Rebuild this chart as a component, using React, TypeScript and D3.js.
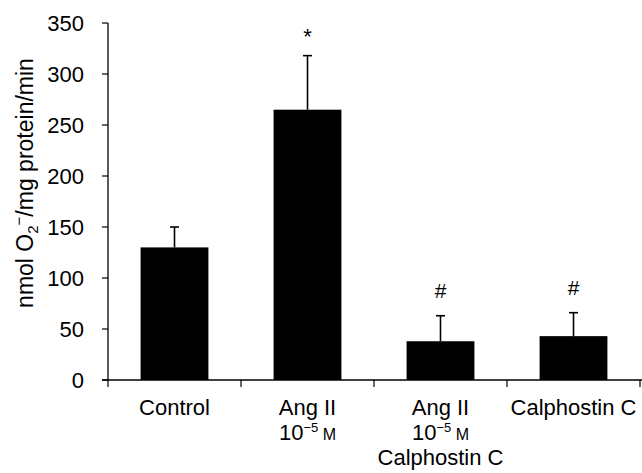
import React from 'react'
import * as d3 from 'd3'

// category labels, one array of lines per bar
const categories = ['Control', 'AngII', 'AngII+Cal', 'Cal']
const labelLines = [
  ['Control'],
  ['Ang II', '10^−5 M'],
  ['Ang II', '10^−5 M', 'Calphostin C'],
  ['Calphostin C'],
]
const means = [130, 265, 38, 43]
const errors = [20, 53, 25, 23]
const marks = ['', '*', '#', '#']
const yTicks = [0, 50, 100, 150, 200, 250, 300, 350]

const W = 642
const H = 473
const font = '"Liberation Sans", Arial, Helvetica, sans-serif'

// renders "10^−5 M" style lines with a superscript and small-caps M
const Line = ({ text, x, y }: { text: string; x: number; y: number }) => {
  if (!text.includes('^')) {
    return (
      <text x={x} y={y} textAnchor="middle">
        {text}
      </text>
    )
  }
  const [base, rest] = text.split('^')
  const [exp, unit] = rest.split(' ')
  return (
    <text x={x} y={y} textAnchor="middle">
      {base}
      <tspan fontSize={13} dy={-8}>
        {exp}
      </tspan>
      <tspan fontSize={16} dy={8}>
        {' ' + unit}
      </tspan>
    </text>
  )
}

const App = () => {
  const left = 108
  const right = 640
  const top = 23
  const bottom = 380

  const y = d3.scaleLinear().domain([0, 350]).range([bottom, top])
  const x = d3
    .scaleBand()
    .domain(categories)
    .range([left, right])
    .paddingInner(0.49)
    .paddingOuter(0.245)

  const bw = x.bandwidth()
  const step = x.step()
  // category separators on the x axis
  const sepTicks = categories.map((c) => (x(c) as number) + bw / 2 - step / 2)
  sepTicks.push(right)

  return (
    <svg
      width={W}
      height={H}
      style={{ position: 'absolute', left: 0, top: 0, background: '#fff' }}
      fontFamily={font}
    >
      {/* bars */}
      {categories.map((c, i) => (
        <rect key={c} x={x(c)} y={y(means[i])} width={bw} height={bottom - y(means[i])} fill="#000" />
      ))}

      {/* error bars (upper only) */}
      {categories.map((c, i) => {
        const cx = (x(c) as number) + bw / 2
        const ey = y(means[i] + errors[i])
        return (
          <g key={'e' + c} stroke="#000" strokeWidth={1.6}>
            <line x1={cx} x2={cx} y1={y(means[i])} y2={ey} />
            <line x1={cx - 4.5} x2={cx + 4.5} y1={ey} y2={ey} />
          </g>
        )
      })}

      {/* significance marks */}
      {categories.map((c, i) =>
        marks[i] ? (
          <text
            key={'m' + c}
            x={(x(c) as number) + bw / 2}
            y={y(means[i] + errors[i]) - (marks[i] === '*' ? 12 : 18)}
            textAnchor="middle"
            fontSize={marks[i] === '*' ? 22 : 21}
          >
            {marks[i]}
          </text>
        ) : null
      )}

      {/* y axis */}
      <line x1={left} x2={left} y1={top} y2={bottom} stroke="#000" strokeWidth={1.3} />
      {yTicks.map((t) => (
        <g key={t}>
          <line x1={left - 6} x2={left} y1={y(t)} y2={y(t)} stroke="#000" strokeWidth={1.2} />
          <text x={84} y={y(t)} dy="0.35em" textAnchor="end" fontSize={22}>
            {t}
          </text>
        </g>
      ))}

      {/* x axis */}
      <line x1={left - 6} x2={right + 2} y1={bottom} y2={bottom} stroke="#000" strokeWidth={1.3} />
      {sepTicks.map((t, i) => (
        <line key={'s' + i} x1={t} x2={t} y1={bottom} y2={bottom + 7} stroke="#000" strokeWidth={1.2} />
      ))}
      <g fontSize={22}>
        {categories.map((c, i) =>
          labelLines[i].map((ln, j) => (
            <Line key={c + j} text={ln} x={(x(c) as number) + bw / 2} y={415 + j * 25} />
          ))
        )}
      </g>

      {/* y axis title */}
      <text transform="translate(33,183) rotate(-90)" textAnchor="middle" fontSize={23}>
        nmol O
        <tspan fontSize={15} dy={5}>
          2
        </tspan>
        <tspan fontSize={15} dy={-14}>
          −
        </tspan>
        <tspan dy={9}>/mg protein/min</tspan>
      </text>
    </svg>
  )
}

export default App
